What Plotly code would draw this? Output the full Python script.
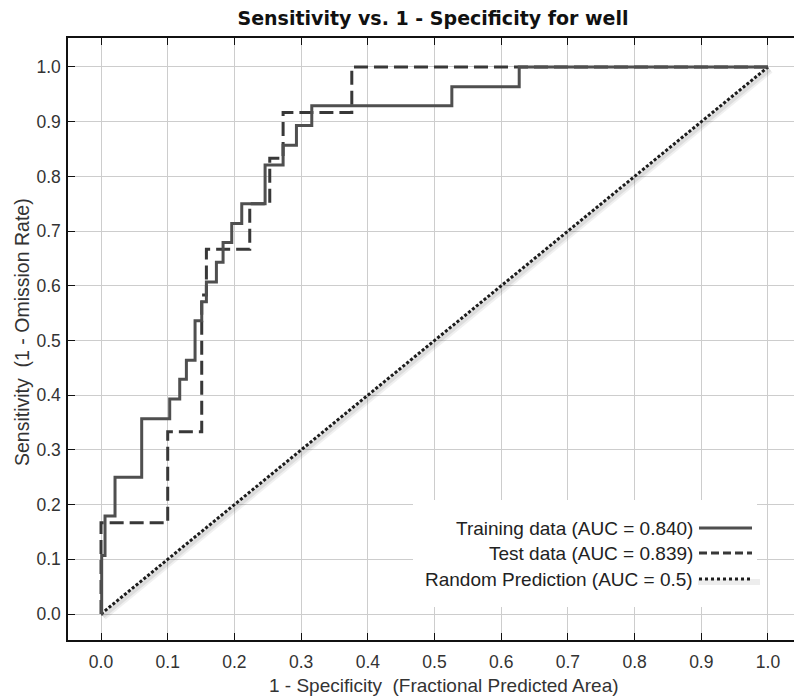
import plotly.graph_objects as go

# ---- data ----
train_fpr = [0.0, 0.001, 0.006, 0.021, 0.061, 0.103, 0.118, 0.128, 0.141, 0.151, 0.158,
             0.173, 0.183, 0.196, 0.211, 0.246, 0.273, 0.293, 0.316, 0.526, 0.627, 1.0]
train_tpr = [0.0, 0.107, 0.179, 0.250, 0.357, 0.393, 0.429, 0.464, 0.536, 0.571, 0.607,
             0.643, 0.679, 0.714, 0.750, 0.821, 0.857, 0.893, 0.929, 0.964, 1.0, 1.0]

test_fpr = [0.0, 0.0, 0.100, 0.151, 0.158, 0.223, 0.253, 0.273, 0.376, 1.0]
test_tpr = [0.0, 0.167, 0.333, 0.583, 0.667, 0.750, 0.833, 0.917, 1.0, 1.0]

random_fpr = [0.0, 1.0]
random_tpr = [0.0, 1.0]

legend_labels = ["Training data (AUC = 0.840)", "Test data (AUC = 0.839)",
                 "Random Prediction (AUC = 0.5)"]

tick_vals = [0.0, 0.1, 0.2, 0.3, 0.4, 0.5, 0.6, 0.7, 0.8, 0.9, 1.0]
tick_text = ["0.0", "0.1", "0.2", "0.3", "0.4", "0.5", "0.6", "0.7", "0.8", "0.9", "1.0"]

title_text = "Sensitivity vs. 1 - Specificity for well"
x_title = "1 - Specificity\u00a0 (Fractional Predicted Area)"
y_title = "Sensitivity\u00a0 (1 - Omission Rate)"

# ---- styles ----
TRAIN_COLOR = "#4f4f4f"
TEST_COLOR = "#383838"
RAND_COLOR = "#1e1e1e"
FONT = "Liberation Sans"
FS = 17.5
FS_LEG = 19

fig = go.Figure()

# soft shadow under the random line
fig.add_trace(go.Scatter(x=random_fpr, y=random_tpr, mode="lines",
                         line=dict(color="rgba(0,0,0,0.06)", width=8),
                         xaxis="x2", yaxis="y2", hoverinfo="skip", showlegend=False))
fig.add_trace(go.Scatter(x=random_fpr, y=random_tpr, mode="lines",
                         line=dict(color="rgba(0,0,0,0.08)", width=4),
                         xaxis="x2", yaxis="y2", hoverinfo="skip", showlegend=False))

fig.add_trace(go.Scatter(x=random_fpr, y=random_tpr, mode="lines", name=legend_labels[2],
                         line=dict(color=RAND_COLOR, width=3, dash="3px,2px"),
                         showlegend=False))
fig.add_trace(go.Scatter(x=test_fpr, y=test_tpr, mode="lines", name=legend_labels[1],
                         line=dict(color=TEST_COLOR, width=3, dash="14px,6px", shape="hv"),
                         showlegend=False))
fig.add_trace(go.Scatter(x=train_fpr, y=train_tpr, mode="lines", name=legend_labels[0],
                         line=dict(color=TRAIN_COLOR, width=3, shape="hv"),
                         showlegend=False))

XR = [-0.0495, 1.039]
YR = [-0.0475, 1.053]
dx = 2.0 / 667.0
dy = 2.5 / 547.0

axis_common = dict(
    tickmode="array", tickvals=tick_vals, ticktext=tick_text,
    showgrid=True, gridcolor="#cdcdcd", gridwidth=1,
    zeroline=False, showline=True, linecolor="#111", linewidth=1.5,
    ticks="inside", ticklen=7, tickwidth=1.2, tickcolor="#111",
    tickfont=dict(family=FONT, size=FS, color="#333"),
)

fig.update_layout(
    width=794, height=697,
    margin=dict(l=68, r=0, t=38, b=57),
    paper_bgcolor="white", plot_bgcolor="white",
    title=dict(text="<b>" + title_text + "</b>", x=(433 - 68) / 726, xref="paper",
               xanchor="center", y=0.973, yanchor="middle",
               font=dict(family="DejaVu Sans", size=19, color="#111")),
    xaxis=dict(range=XR, mirror="ticks", ticklabelstandoff=5, **axis_common),
    yaxis=dict(range=YR, mirror=False, ticklabelstandoff=2, **axis_common),
    xaxis2=dict(range=[XR[0] - dx, XR[1] - dx], overlaying="x", visible=False),
    yaxis2=dict(range=[YR[0] + dy, YR[1] + dy], overlaying="y", visible=False),
    showlegend=False,
)

def px_x(p):
    return (p - 68) / 726.0

def px_y(p):
    return (640 - p) / 602.0

# axis titles
fig.add_annotation(xref="paper", yref="paper", x=px_x(444), y=px_y(685.5),
                   xanchor="center", yanchor="middle", showarrow=False,
                   text=x_title, font=dict(family=FONT, size=19, color="#333"))
fig.add_annotation(xref="paper", yref="paper", x=px_x(22), y=px_y(332),
                   xanchor="center", yanchor="middle", showarrow=False, textangle=-90,
                   text=y_title, font=dict(family=FONT, size=19.5, color="#333"))

# ---- custom legend (text to the left of the line sample) ----
fig.add_shape(type="rect", xref="paper", yref="paper",
              x0=px_x(413), x1=px_x(757), y0=px_y(607), y1=px_y(500),
              fillcolor="white", line=dict(width=0), layer="above")

rows_y = [528, 553, 579]
styles = [dict(color=TRAIN_COLOR, width=3),
          dict(color=TEST_COLOR, width=3, dash="8px,4px"),
          dict(color=RAND_COLOR, width=3, dash="3px,3px")]
for label, ry, st in zip(legend_labels, rows_y, styles):
    fig.add_annotation(xref="paper", yref="paper", x=px_x(695), y=px_y(ry),
                       xanchor="right", yanchor="middle", showarrow=False,
                       text=label, font=dict(family=FONT, size=FS_LEG, color="#222"))
    if st.get("dash") == "3px,3px":
        fig.add_shape(type="line", xref="paper", yref="paper",
                      x0=px_x(698), x1=px_x(760), y0=px_y(ry + 3), y1=px_y(ry + 3),
                      line=dict(color="rgba(0,0,0,0.07)", width=6), layer="above")
    fig.add_shape(type="line", xref="paper", yref="paper",
                  x0=px_x(699), x1=px_x(752), y0=px_y(ry), y1=px_y(ry),
                  line=st, layer="above")

fig.write_html("out.html")
